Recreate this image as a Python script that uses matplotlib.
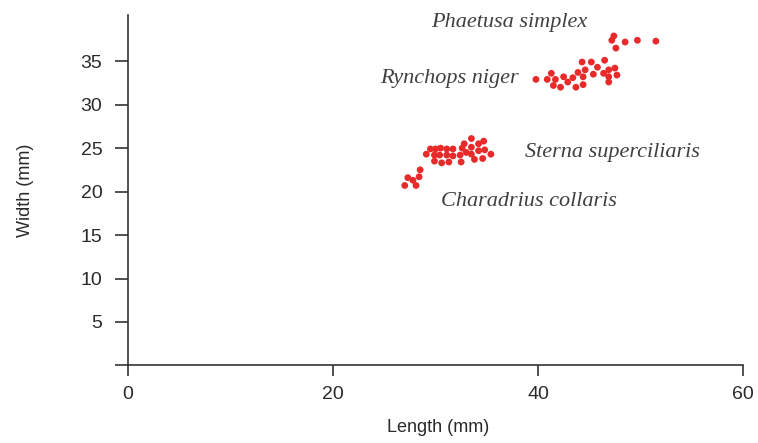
import matplotlib
matplotlib.use("Agg")
import matplotlib.pyplot as plt

# Data (length, width in mm)
phaetusa_len = [47.4, 47.2, 47.6, 48.5, 49.7, 51.5]
phaetusa_wid = [37.9, 37.4, 36.5, 37.2, 37.4, 37.3]

rynchops_len = [39.8, 40.9, 41.3, 41.7, 41.5, 42.2, 42.5, 42.9, 43.4, 43.7, 43.9, 44.3, 44.4,
                44.4, 44.6, 45.2, 45.4, 45.8, 46.5, 46.4, 46.9, 47.5, 46.9, 47.7, 46.9]
rynchops_wid = [32.9, 32.9, 33.6, 32.9, 32.2, 32.0, 33.2, 32.6, 33.1, 32.0, 33.7, 34.9, 33.2,
                32.3, 34.0, 34.9, 33.5, 34.3, 35.1, 33.6, 34.0, 34.2, 33.2, 33.4, 32.6]

sterna_len = [29.5, 30.0, 30.5, 31.1, 31.7, 32.6, 32.8, 33.5, 33.5, 34.2, 34.7,
              29.1, 29.9, 30.4, 31.1, 31.7, 32.4, 33.0, 33.5, 34.2, 34.8, 35.4,
              29.9, 30.6, 31.3, 32.5, 33.8, 34.6]
sterna_wid = [24.9, 24.9, 25.0, 24.9, 24.9, 25.0, 25.5, 26.1, 25.1, 25.5, 25.8,
              24.3, 24.2, 24.2, 24.2, 24.1, 24.2, 24.5, 24.3, 24.7, 24.8, 24.3,
              23.5, 23.3, 23.4, 23.4, 23.7, 23.8]

charadrius_len = [28.5, 27.3, 27.8, 28.4, 28.1, 27.0]
charadrius_wid = [22.5, 21.6, 21.3, 21.7, 20.7, 20.7]

labels = ["Phaetusa simplex", "Rynchops niger", "Sterna superciliaris", "Charadrius collaris"]
label_pos = [(37.2, 39.5), (31.4, 33.0), (47.3, 24.5), (39.1, 18.9)]

x_ticks = [0, 20, 40, 60]
y_ticks = [0, 5, 10, 15, 20, 25, 30, 35]
y_ticklabels = ["", "5", "10", "15", "20", "25", "30", "35"]

fig = plt.figure(figsize=(7.58, 4.43), dpi=100)
ax = fig.add_axes([0.1689, 0.175, 0.8113, 0.791])

dot = dict(s=24, color="#e82a2a", edgecolors="none", zorder=3)
for xs, ys in [(phaetusa_len, phaetusa_wid), (rynchops_len, rynchops_wid),
               (sterna_len, sterna_wid), (charadrius_len, charadrius_wid)]:
    ax.scatter(xs, ys, **dot)

for lab, (lx, ly) in zip(labels, label_pos):
    ax.text(lx, ly, lab, ha="center", va="center", fontsize=16, style="italic",
            family="Liberation Serif", color="#404040")

ax.set_xlim(0, 60)
ax.set_ylim(0, 40.3)
ax.set_xticks(x_ticks)
ax.set_yticks(y_ticks)
ax.set_yticklabels(y_ticklabels)

for s in ["top", "right"]:
    ax.spines[s].set_visible(False)
for s in ["left", "bottom"]:
    ax.spines[s].set_color("#333333")
    ax.spines[s].set_linewidth(1.2)

ax.tick_params(axis="x", length=8, width=1.2, color="#333333", pad=7,
               labelsize=14, labelcolor="#2a2a2a")
ax.tick_params(axis="y", length=9.5, width=1.2, color="#333333", pad=9,
               labelsize=14, labelcolor="#2a2a2a")
for t in ax.get_xticklabels() + ax.get_yticklabels():
    t.set_family("Liberation Sans")

ax.set_xlabel("Length (mm)", fontsize=13, family="Liberation Sans", color="#2a2a2a")
ax.set_ylabel("Width (mm)", fontsize=13, family="Liberation Sans", color="#2a2a2a")
ax.xaxis.set_label_coords(0.505, -0.178)
ax.yaxis.set_label_coords(-0.1675, 0.5)
ax.xaxis.label.set_va("center")
ax.yaxis.label.set_va("center")

fig.savefig("out.png", dpi=100)
